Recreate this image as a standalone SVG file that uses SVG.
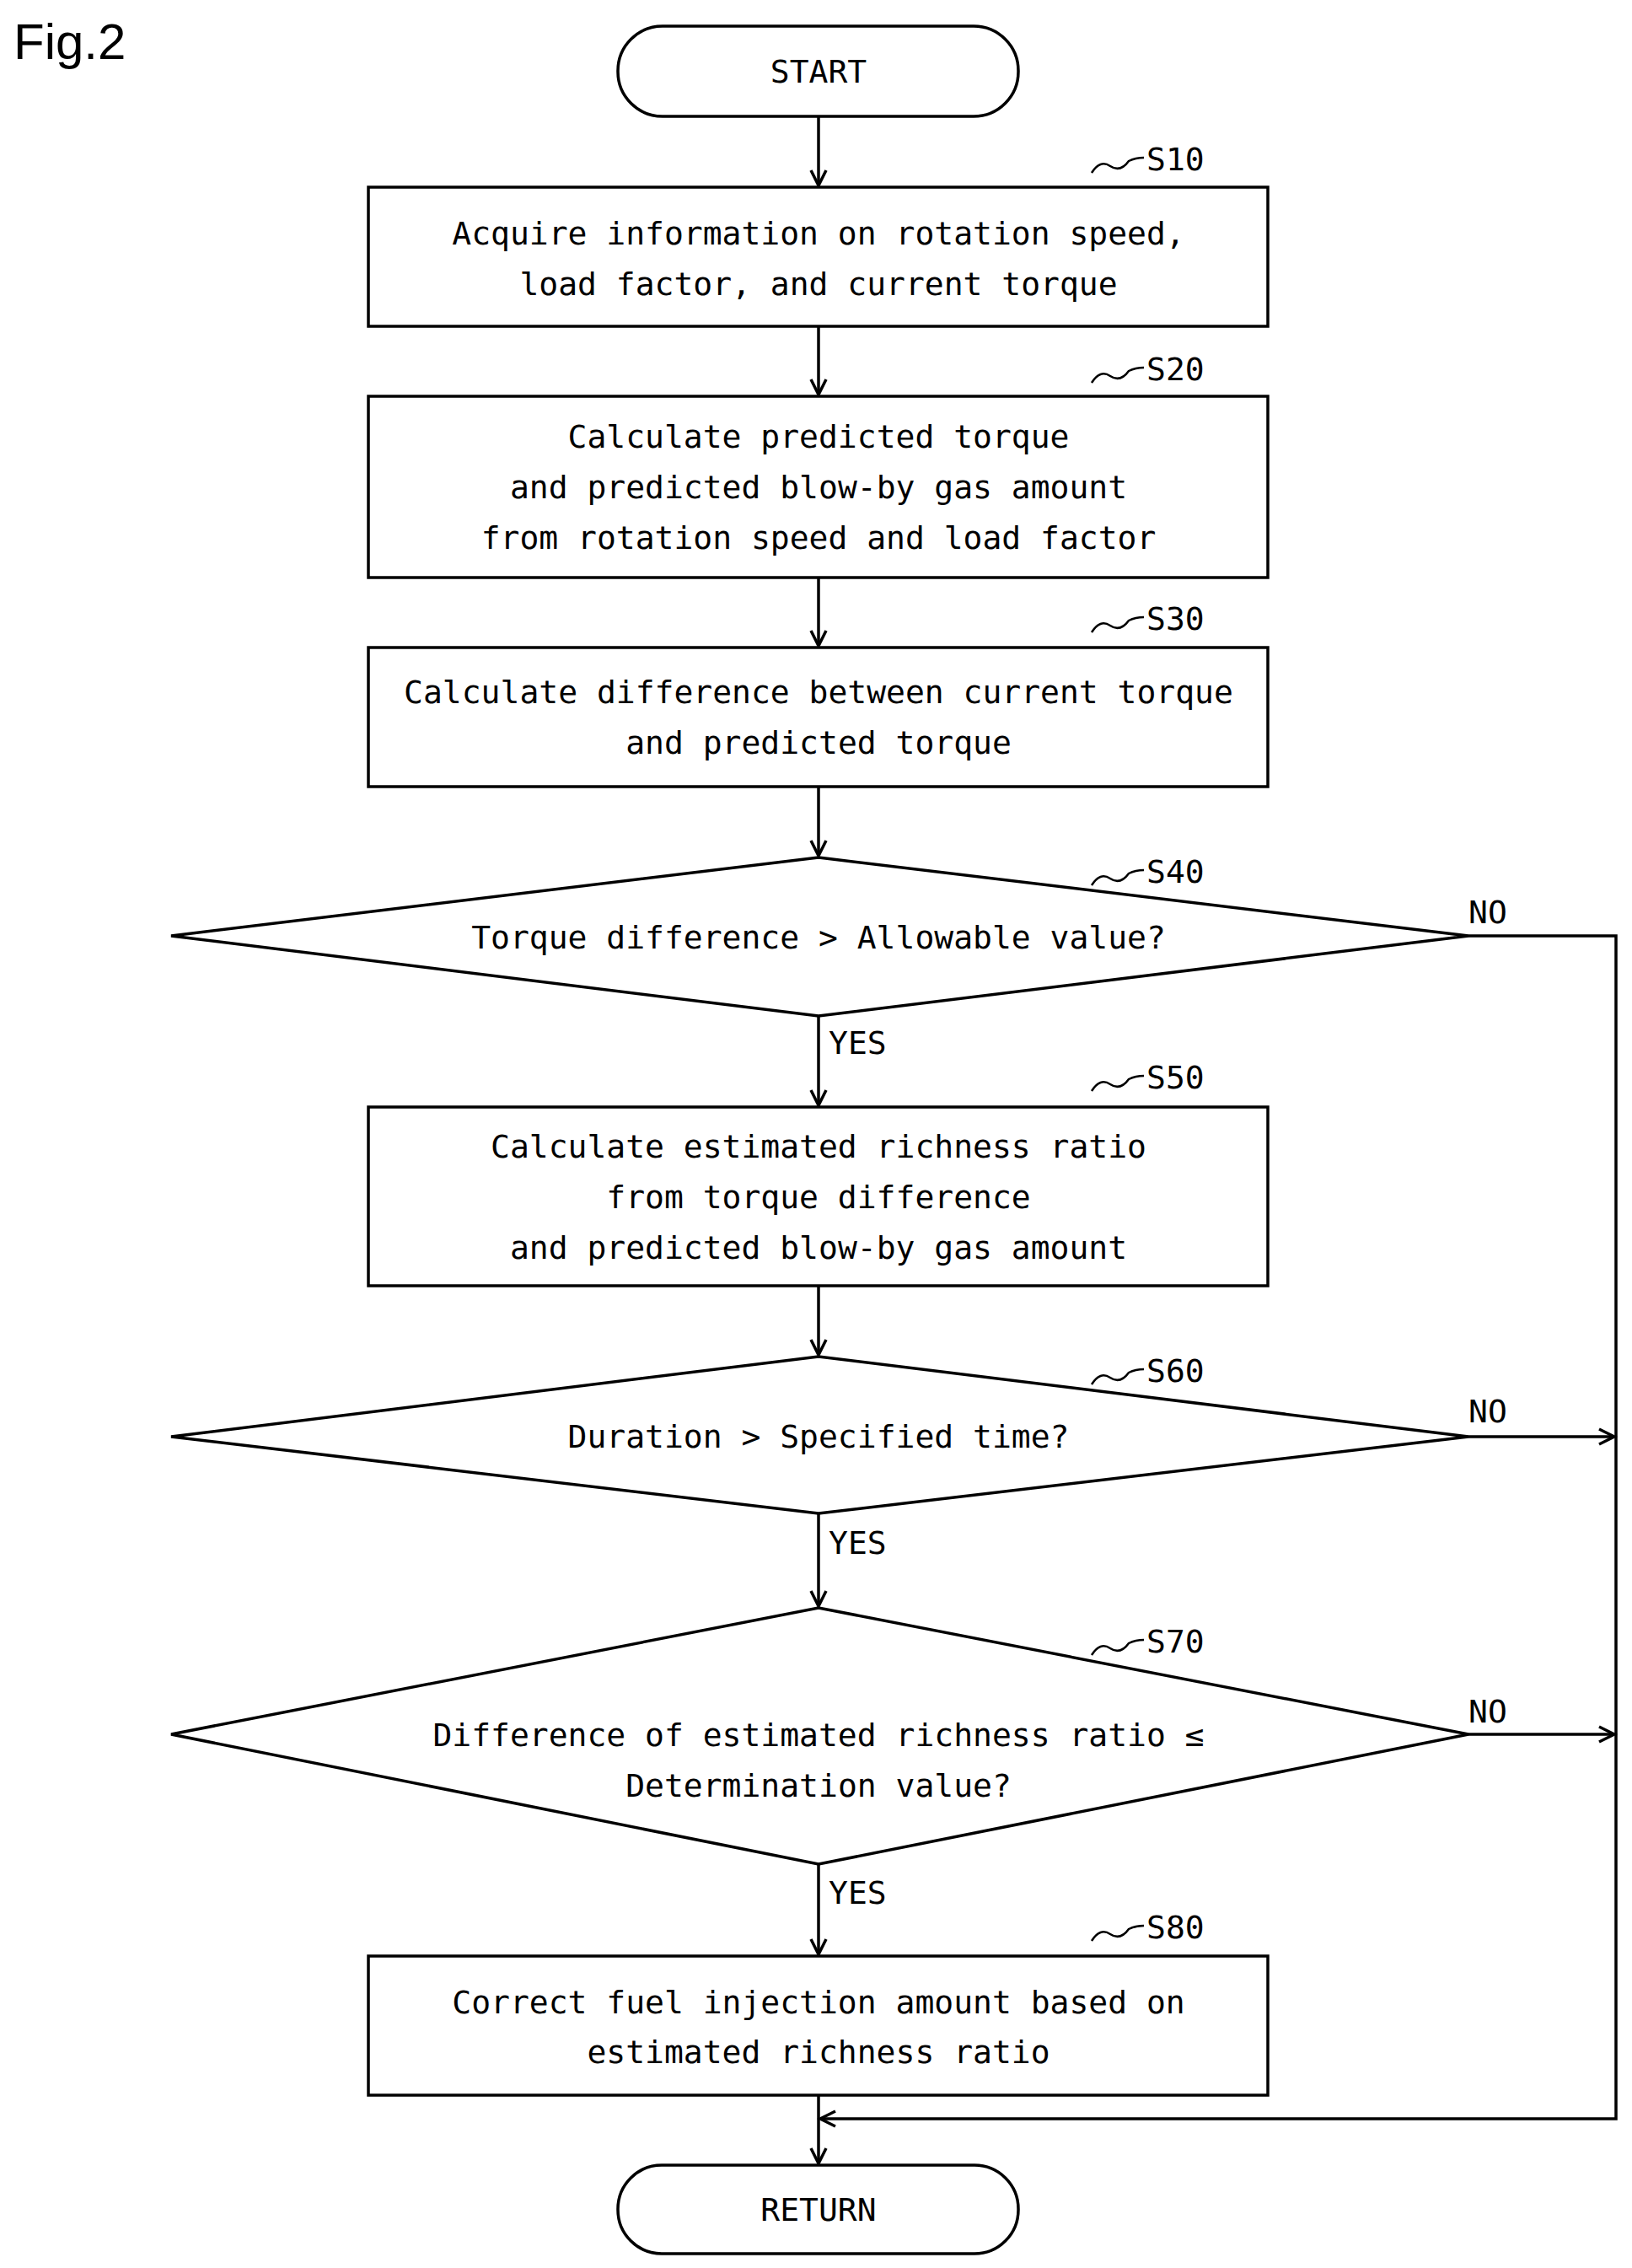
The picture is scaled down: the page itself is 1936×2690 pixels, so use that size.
<svg xmlns="http://www.w3.org/2000/svg" width="1936" height="2690" viewBox="0 0 1936 2690">
<style>
.s{fill:#fff;stroke:#000;stroke-width:3.5}
.t{font-family:"DejaVu Sans Mono","Liberation Mono",monospace;font-size:38px;text-anchor:middle;fill:#000}
.l{font-family:"DejaVu Sans Mono","Liberation Mono",monospace;font-size:38px;fill:#000}
.c{fill:none;stroke:#000;stroke-width:3.5}
</style>
<defs>
<marker id="a" markerWidth="24" markerHeight="24" refX="20" refY="12" orient="auto" markerUnits="userSpaceOnUse">
<polyline points="2,3 20,12 2,21" fill="none" stroke="#000" stroke-width="3.5"/>
</marker>
</defs>
<rect width="1936" height="2690" fill="#fff"/>
<text x="16" y="70" style="font-family:'Liberation Sans',sans-serif;font-size:60px">Fig.2</text>
<g id="connectors" class="c">
<line x1="971" y1="138" x2="971" y2="220" marker-end="url(#a)"/>
<line x1="971" y1="387" x2="971" y2="468" marker-end="url(#a)"/>
<line x1="971" y1="685" x2="971" y2="766" marker-end="url(#a)"/>
<line x1="971" y1="933" x2="971" y2="1015" marker-end="url(#a)"/>
<line x1="971" y1="1205" x2="971" y2="1311" marker-end="url(#a)"/>
<line x1="971" y1="1525" x2="971" y2="1607" marker-end="url(#a)"/>
<line x1="971" y1="1795" x2="971" y2="1905" marker-end="url(#a)"/>
<line x1="971" y1="2211" x2="971" y2="2318" marker-end="url(#a)"/>
<line x1="971" y1="2485" x2="971" y2="2566" marker-end="url(#a)"/>
<polyline points="1742,1110 1917,1110 1917,2513 973,2513" marker-end="url(#a)"/>
<line x1="1742" y1="1704" x2="1915" y2="1704" marker-end="url(#a)"/>
<line x1="1742" y1="2057" x2="1915" y2="2057" marker-end="url(#a)"/>
</g>
<g id="start"><rect class="s" x="733" y="31" width="475" height="107" rx="53"/><text class="t" x="971" y="98">START</text></g>
<g id="S10"><rect class="s" x="437" y="222" width="1067" height="165"/><text class="t" x="971" y="290">Acquire information on rotation speed,</text><text class="t" x="971" y="350">load factor, and current torque</text></g>
<g id="S20"><rect class="s" x="437" y="470" width="1067" height="215"/><text class="t" x="971" y="531">Calculate predicted torque</text><text class="t" x="971" y="591">and predicted blow-by gas amount</text><text class="t" x="971" y="651">from rotation speed and load factor</text></g>
<g id="S30"><rect class="s" x="437" y="768" width="1067" height="165"/><text class="t" x="971" y="834">Calculate difference between current torque</text><text class="t" x="971" y="894">and predicted torque</text></g>
<g id="S40"><polygon class="s" points="203,1110 971,1017 1742,1110 971,1205"/><text class="t" x="971" y="1125">Torque difference &gt; Allowable value?</text></g>
<g id="S50"><rect class="s" x="437" y="1313" width="1067" height="212"/><text class="t" x="971" y="1373">Calculate estimated richness ratio</text><text class="t" x="971" y="1433">from torque difference</text><text class="t" x="971" y="1493">and predicted blow-by gas amount</text></g>
<g id="S60"><polygon class="s" points="203,1704 971,1609 1742,1704 971,1795"/><text class="t" x="971" y="1717">Duration &gt; Specified time?</text></g>
<g id="S70"><polygon class="s" points="203,2057 971,1907 1742,2057 971,2211"/><text class="t" x="971" y="2071">Difference of estimated richness ratio ≤</text><text class="t" x="971" y="2131">Determination value?</text></g>
<g id="S80"><rect class="s" x="437" y="2320" width="1067" height="165"/><text class="t" x="971" y="2388">Correct fuel injection amount based on</text><text class="t" x="971" y="2447">estimated richness ratio</text></g>
<g id="return"><rect class="s" x="733" y="2568" width="475" height="105" rx="52"/><text class="t" x="971" y="2634">RETURN</text></g>
<g id="labels">
<g class="c" style="stroke-width:2.5">
<path d="M1295,205 q10,-16 22,-8 t22,-6 q8,-4 18,-4"/>
<path d="M1295,454 q10,-16 22,-8 t22,-6 q8,-4 18,-4"/>
<path d="M1295,750 q10,-16 22,-8 t22,-6 q8,-4 18,-4"/>
<path d="M1295,1050 q10,-16 22,-8 t22,-6 q8,-4 18,-4"/>
<path d="M1295,1294 q10,-16 22,-8 t22,-6 q8,-4 18,-4"/>
<path d="M1295,1642 q10,-16 22,-8 t22,-6 q8,-4 18,-4"/>
<path d="M1295,1963 q10,-16 22,-8 t22,-6 q8,-4 18,-4"/>
<path d="M1295,2302 q10,-16 22,-8 t22,-6 q8,-4 18,-4"/>
</g>
<text class="l" x="1360" y="202">S10</text>
<text class="l" x="1360" y="451">S20</text>
<text class="l" x="1360" y="747">S30</text>
<text class="l" x="1360" y="1047">S40</text>
<text class="l" x="1360" y="1291">S50</text>
<text class="l" x="1360" y="1639">S60</text>
<text class="l" x="1360" y="1960">S70</text>
<text class="l" x="1360" y="2299">S80</text>
<text class="l" x="983" y="1250">YES</text>
<text class="l" x="983" y="1843">YES</text>
<text class="l" x="983" y="2258">YES</text>
<text class="l" x="1742" y="1095">NO</text>
<text class="l" x="1742" y="1687">NO</text>
<text class="l" x="1742" y="2043">NO</text>
</g>
</svg>
